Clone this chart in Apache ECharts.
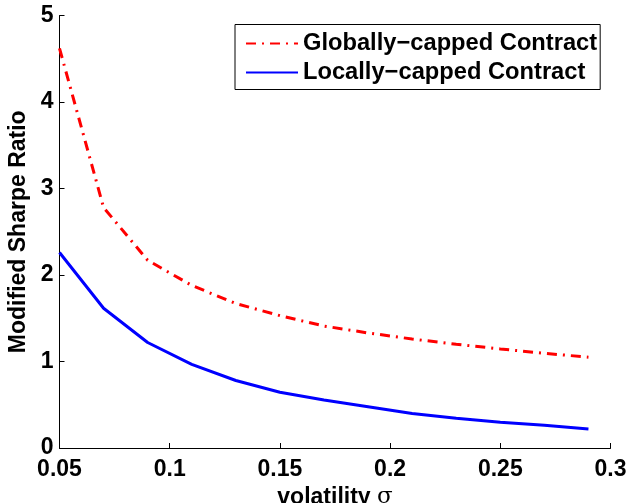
<!DOCTYPE html>
<html>
<head>
<meta charset="utf-8">
<script src="https://cdn.jsdelivr.net/npm/echarts@6/dist/echarts.min.js"></script>
<style>
  html, body { margin: 0; padding: 0; background: #fff; }
  #chart { width: 630px; height: 503px; }
</style>
</head>
<body>
<div id="chart"></div>
<script>
const volatility = [0.05, 0.07, 0.09, 0.11, 0.13, 0.15, 0.17, 0.19, 0.21, 0.23, 0.25, 0.27, 0.29];
const globallyCapped = [4.62, 2.78, 2.17, 1.88, 1.67, 1.53, 1.41, 1.33, 1.26, 1.20, 1.145, 1.095, 1.05];
const locallyCapped = [2.26, 1.615, 1.22, 0.967, 0.78, 0.645, 0.555, 0.478, 0.40, 0.343, 0.297, 0.262, 0.22];

const font = 'Liberation Sans, Arial, Helvetica, sans-serif';

const chart = echarts.init(document.getElementById('chart'));

chart.setOption({
  animation: false,
  backgroundColor: '#fff',
  grid: { left: 59.5, right: 19.5, top: 15.5, bottom: 55, outerBoundsMode: 'none', containLabel: false },
  legend: {
    orient: 'vertical',
    left: 235,
    top: 24.5,
    padding: [7, 3, 5, 10],
    itemWidth: 52,
    itemHeight: 14,
    itemGap: 5,
    borderColor: '#000',
    borderWidth: 1,
    backgroundColor: '#fff',
    itemStyle: { opacity: 0 },
    textStyle: { fontFamily: font, fontWeight: 'bold', fontSize: 23.7, color: '#000', lineHeight: 24 },
    data: ['Globally\u2212capped Contract', 'Locally\u2212capped Contract']
  },
  xAxis: {
    type: 'value',
    min: 0.05,
    max: 0.3,
    interval: 0.05,
    name: '{b|volatility }{s|\u03c3}',
    nameLocation: 'middle',
    nameGap: 38,
    nameTextStyle: {
      rich: {
        b: { fontFamily: font, fontWeight: 'bold', fontSize: 23, color: '#000' },
        s: { fontFamily: 'DejaVu Serif, Liberation Serif, serif', fontSize: 23, color: '#000' }
      }
    },
    axisLine: { lineStyle: { color: '#000', width: 1 } },
    axisTick: { inside: true, length: 5, lineStyle: { color: '#000' } },
    axisLabel: { fontFamily: font, fontWeight: 'bold', fontSize: 23, color: '#000', margin: 10 },
    splitLine: { show: false }
  },
  yAxis: {
    type: 'value',
    min: 0,
    max: 5,
    interval: 1,
    name: 'Modified Sharpe Ratio',
    nameLocation: 'middle',
    nameGap: 28,
    nameTextStyle: { fontFamily: font, fontWeight: 'bold', fontSize: 23, color: '#000' },
    axisLine: { show: true, lineStyle: { color: '#000', width: 1 } },
    axisTick: { show: true, inside: true, length: 5, lineStyle: { color: '#000' } },
    axisLabel: { fontFamily: font, fontWeight: 'bold', fontSize: 23, color: '#000', margin: 6 },
    splitLine: { show: false }
  },
  series: [
    {
      name: 'Globally\u2212capped Contract',
      type: 'line',
      showSymbol: false,
      symbol: 'none',
      data: volatility.map((x, i) => [x, globallyCapped[i]]),
      lineStyle: { color: '#ff0000', width: 3, type: [10, 6, 2, 6] },
      itemStyle: { color: '#ff0000' }
    },
    {
      name: 'Locally\u2212capped Contract',
      type: 'line',
      showSymbol: false,
      symbol: 'none',
      data: volatility.map((x, i) => [x, locallyCapped[i]]),
      lineStyle: { color: '#0000ff', width: 3 },
      itemStyle: { color: '#0000ff' }
    }
  ]
});
</script>
</body>
</html>
